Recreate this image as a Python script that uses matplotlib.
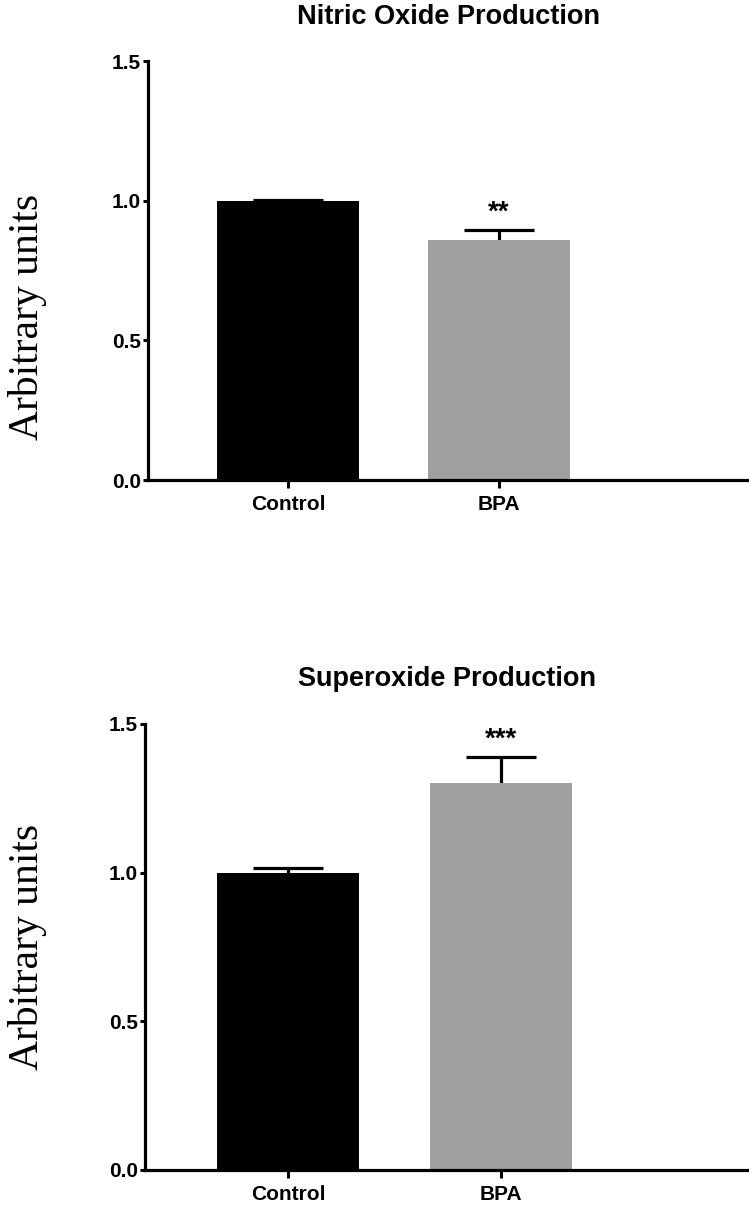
import matplotlib.pyplot as plt

groups = ["Control", "BPA"]
colors = ["#000000", "#a0a0a0"]

no_mean = [1.0, 0.859]
no_err = [0.004, 0.036]
no_stars = ["", "**"]

sup_mean = [1.0, 1.302]
sup_err = [0.015, 0.086]
sup_stars = ["", "***"]

plt.rcParams["font.family"] = ["Liberation Sans", "DejaVu Sans"]

fig = plt.figure(figsize=(7.49, 12.08), dpi=100)


def draw(ax, means, errs, stars, title, xlim, label_xy):
    x = list(range(len(groups)))
    ax.bar(x, means, width=0.67, color=colors, zorder=2)
    for xi, m, e, s in zip(x, means, errs, stars):
        # upper-only error bar with a wide cap
        ax.vlines(xi, m, m + e, color="black", linewidth=2.3, zorder=1)
        ax.hlines(m + e, xi - 0.165, xi + 0.165, color="black", linewidth=2.3,
                  zorder=1)
        if s:
            ax.text(xi, m + e + 0.015, s, ha="center", va="bottom",
                    fontsize=20, fontweight="bold")
    ax.set_xlim(*xlim)
    ax.set_ylim(0, 1.5)
    ax.set_yticks([0.0, 0.5, 1.0, 1.5])
    ax.set_yticklabels(["0.0", "0.5", "1.0", "1.5"])
    ax.set_xticks(x)
    ax.set_xticklabels(groups)
    for lab in ax.get_xticklabels() + ax.get_yticklabels():
        lab.set_fontweight("bold")
        lab.set_fontsize(15)
    ax.tick_params(axis="y", width=2.2, length=3.5, pad=1.5)
    ax.tick_params(axis="x", width=2.2, length=6, pad=5)
    for sp in ("top", "right"):
        ax.spines[sp].set_visible(False)
    for sp in ("left", "bottom"):
        ax.spines[sp].set_linewidth(2.3)
    ax.set_title(title, fontsize=19.5, fontweight="bold", pad=27)
    ax.set_ylabel("Arbitrary units", family="Liberation Serif", fontsize=30)
    ax.yaxis.set_label_coords(*label_xy)


ax1 = fig.add_axes([0.1976, 0.6026, 0.8024, 0.3469])
draw(ax1, no_mean, no_err, no_stars, "Nitric Oxide Production",
     (-0.664, 2.185), (-0.168, 0.39))

ax2 = fig.add_axes([0.1936, 0.0315, 0.8064, 0.3692])
draw(ax2, sup_mean, sup_err, sup_stars, "Superoxide Production",
     (-0.671, 2.164), (-0.163, 0.5))

fig.savefig("out.png")
